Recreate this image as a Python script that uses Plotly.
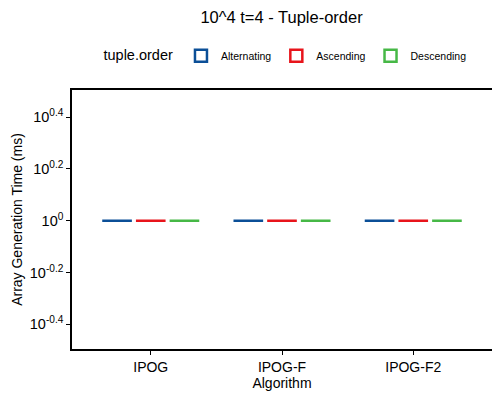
import plotly.graph_objects as go

# Data: every run took ~1 ms
algorithms = ["IPOG", "IPOG-F", "IPOG-F2"]
orders = ["Alternating", "Ascending", "Descending"]
colors = ["#0B4F97", "#E8141B", "#46B846"]

time_alternating = {"IPOG": [1, 1, 1, 1, 1], "IPOG-F": [1, 1, 1, 1, 1], "IPOG-F2": [1, 1, 1, 1, 1]}
time_ascending = {"IPOG": [1, 1, 1, 1, 1], "IPOG-F": [1, 1, 1, 1, 1], "IPOG-F2": [1, 1, 1, 1, 1]}
time_descending = {"IPOG": [1, 1, 1, 1, 1], "IPOG-F": [1, 1, 1, 1, 1], "IPOG-F2": [1, 1, 1, 1, 1]}

tick_exps = [-0.4, -0.2, 0, 0.2, 0.4]
tick_labels = ["10<sup>-0.4</sup>", "10<sup>-0.2</sup>", "10<sup>0</sup>", "10<sup>0.2</sup>", "10<sup>0.4</sup>"]

fig = go.Figure()

for name, series, color in zip(orders, [time_alternating, time_ascending, time_descending], colors):
    xs, ys = [], []
    for alg in algorithms:
        xs += [alg] * len(series[alg])
        ys += series[alg]
    fig.add_trace(go.Box(
        x=xs,
        y=ys,
        name=name,
        marker=dict(color=color),
        line=dict(color=color, width=2.5),
        fillcolor="white",
        boxpoints=False,
    ))

# the page body adds an 8px offset, so the figure is a bit smaller than the window
fig.update_layout(
    width=492,
    height=392,
    boxmode="group",
    boxgap=0.23,
    boxgroupgap=0.12,
    plot_bgcolor="white",
    paper_bgcolor="white",
    font=dict(family="Liberation Sans, Arial, sans-serif", color="black", size=13),
    margin=dict(l=64, r=8, t=82, b=51, autoexpand=False),
    title=dict(
        text="10^4 t=4 - Tuple-order",
        x=0.556,
        xanchor="center",
        yref="container",
        y=0.976,
        yanchor="middle",
        font=dict(size=16.5),
    ),
    legend=dict(
        orientation="h",
        x=0.19,
        xanchor="left",
        xref="container",
        y=0.878,
        yref="container",
        yanchor="middle",
        title=dict(text="tuple.order", font=dict(size=14.5)),
        font=dict(size=10.5),
        itemwidth=30,
        tracegroupgap=0,
    ),
)

fig.update_xaxes(
    title=dict(text="Algorithm", font=dict(size=14), standoff=2),
    tickfont=dict(size=14),
    categoryorder="array",
    categoryarray=algorithms,
    range=[-0.6, 2.6],
    showline=True,
    linecolor="black",
    linewidth=1.5,
    mirror=True,
    ticks="outside",
    ticklen=4,
    tickcolor="black",
    showgrid=False,
    zeroline=False,
)

fig.update_yaxes(
    title=dict(text="Array Generation Time (ms)", font=dict(size=14), standoff=4),
    tickfont=dict(size=14.5),
    type="log",
    range=[-0.495, 0.505],
    tickvals=[10 ** e for e in tick_exps],
    ticktext=tick_labels,
    showline=True,
    linecolor="black",
    linewidth=1.5,
    mirror=True,
    ticks="outside",
    ticklen=4,
    tickcolor="black",
    showgrid=False,
    zeroline=False,
)

fig.write_html("out.html")
